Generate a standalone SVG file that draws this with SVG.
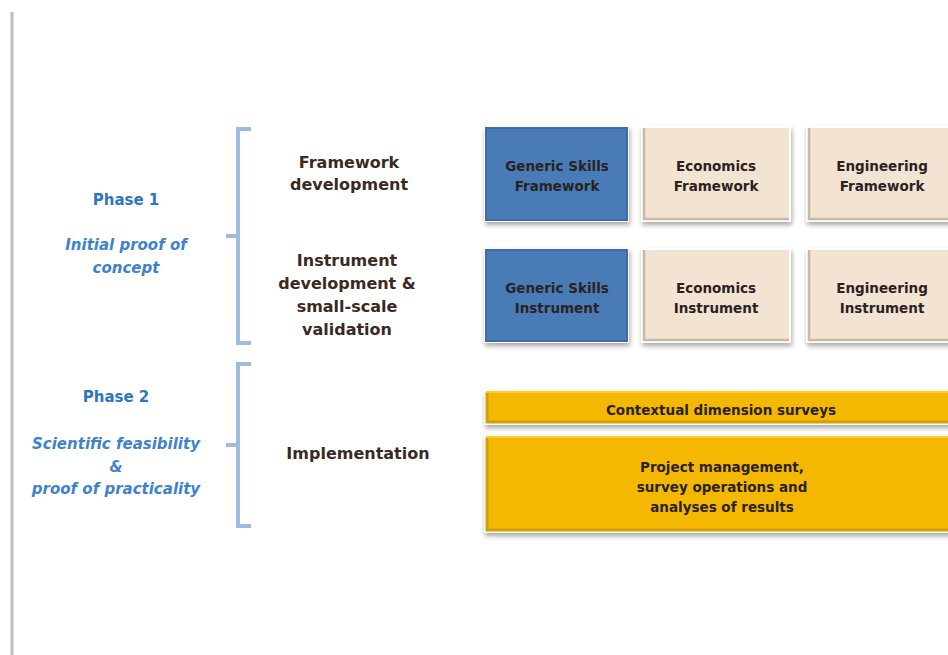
<svg xmlns="http://www.w3.org/2000/svg" width="948" height="655" viewBox="0 0 948 655">
<defs>
<filter id="sh" x="-10%" y="-20%" width="120%" height="150%">
<feGaussianBlur in="SourceAlpha" stdDeviation="2.5" result="b"/>
<feOffset dx="1" dy="3" result="o"/>
<feComponentTransfer in="o" result="s"><feFuncA type="linear" slope="0.35"/></feComponentTransfer>
<feMerge><feMergeNode in="s"/><feMergeNode in="SourceGraphic"/></feMerge>
</filter>
<style>
.lbl{font-family:"DejaVu Sans",sans-serif;font-weight:bold;font-size:16px;fill:#3a2a22;text-anchor:middle}
.box{font-family:"DejaVu Sans",sans-serif;font-weight:bold;font-size:13.5px;fill:#2a2220;text-anchor:middle}
.ph{font-family:"DejaVu Sans",sans-serif;font-weight:bold;font-size:15px;fill:#2e75c0;text-anchor:middle}
.it{font-family:"DejaVu Sans",sans-serif;font-weight:bold;font-style:italic;font-size:15px;fill:#3f82cc;text-anchor:middle}
.br{fill:none;stroke:#9dbadf;stroke-width:4}
.blue{fill:#4a7bb7;stroke:#ffffff;stroke-width:2}
.peach{fill:#f3e3d3;stroke:#ffffff;stroke-width:2}
.gold{fill:#f4b800;stroke:#ffffff;stroke-width:2}
</style>
</defs>
<rect width="948" height="655" fill="#ffffff"/>
<line x1="12" y1="12" x2="12" y2="655" stroke="#bdbdbd" stroke-width="3"/>

<g id="connectors">
<path class="br" d="M251,129 H238 V343 H251 M226,236 H238"/>
<path class="br" d="M251,364 H238 V526 H251 M226,445 H238"/>
</g>

<g id="phase1">
<text class="ph" x="126" y="205">Phase 1</text>
<text class="it" x="126" y="250">Initial proof of</text>
<text class="it" x="126" y="273">concept</text>
</g>
<g id="phase2">
<text class="ph" x="116" y="402">Phase 2</text>
<text class="it" x="116" y="449">Scientific feasibility</text>
<text class="it" x="116" y="472">&amp;</text>
<text class="it" x="116" y="494">proof of practicality</text>
</g>
<g id="framework-dev">
<text class="lbl" x="349" y="168">Framework</text>
<text class="lbl" x="349" y="190">development</text>
</g>
<g id="instrument-dev">
<text class="lbl" x="347" y="266">Instrument</text>
<text class="lbl" x="347" y="289">development &amp;</text>
<text class="lbl" x="347" y="312">small-scale</text>
<text class="lbl" x="347" y="335">validation</text>
</g>
<g id="implementation">
<text class="lbl" x="358" y="459">Implementation</text>
</g>

<g id="gs-framework">
<rect class="blue" x="485" y="127" width="143" height="94" filter="url(#sh)"/>
<rect x="486" y="128" width="141" height="92" fill="none" stroke="#3f6ca6" stroke-width="2"/>
<text class="box" x="557" y="171">Generic Skills</text>
<text class="box" x="557" y="191">Framework</text>
</g>
<g id="econ-framework">
<rect class="peach" x="642" y="127" width="148" height="94" filter="url(#sh)"/>
<path d="M644,128 V219 H789" fill="none" stroke="#c9b8a6" stroke-width="2.5"/>
<text class="box" x="716" y="171">Economics</text>
<text class="box" x="716" y="191">Framework</text>
</g>
<g id="eng-framework">
<rect class="peach" x="807" y="127" width="145" height="94" filter="url(#sh)"/>
<path d="M809,128 V219 H950" fill="none" stroke="#c9b8a6" stroke-width="2.5"/>
<text class="box" x="882" y="171">Engineering</text>
<text class="box" x="882" y="191">Framework</text>
</g>

<g id="gs-instrument">
<rect class="blue" x="485" y="249" width="143" height="93" filter="url(#sh)"/>
<rect x="486" y="250" width="141" height="91" fill="none" stroke="#3f6ca6" stroke-width="2"/>
<text class="box" x="557" y="293">Generic Skills</text>
<text class="box" x="557" y="313">Instrument</text>
</g>
<g id="econ-instrument">
<rect class="peach" x="642" y="249" width="148" height="93" filter="url(#sh)"/>
<path d="M644,250 V340 H789" fill="none" stroke="#c9b8a6" stroke-width="2.5"/>
<text class="box" x="716" y="293">Economics</text>
<text class="box" x="716" y="313">Instrument</text>
</g>
<g id="eng-instrument">
<rect class="peach" x="807" y="249" width="145" height="93" filter="url(#sh)"/>
<path d="M809,250 V340 H950" fill="none" stroke="#c9b8a6" stroke-width="2.5"/>
<text class="box" x="882" y="293">Engineering</text>
<text class="box" x="882" y="313">Instrument</text>
</g>

<g id="contextual">
<rect class="gold" x="485" y="391" width="467" height="33" filter="url(#sh)"/>
<path d="M487,392 V422 H950" fill="none" stroke="#d4a000" stroke-width="3"/>
<line x1="486" y1="392" x2="950" y2="392" stroke="#ffcb2a" stroke-width="2"/>
<text class="box" x="721" y="415">Contextual dimension surveys</text>
</g>
<g id="project-mgmt">
<rect class="gold" x="485" y="436" width="467" height="96" filter="url(#sh)"/>
<path d="M487,437 V530 H950" fill="none" stroke="#d4a000" stroke-width="3"/>
<line x1="486" y1="437" x2="950" y2="437" stroke="#ffcb2a" stroke-width="2"/>
<text class="box" x="722" y="472">Project management,</text>
<text class="box" x="722" y="492">survey operations and</text>
<text class="box" x="722" y="512">analyses of results</text>
</g>
</svg>
